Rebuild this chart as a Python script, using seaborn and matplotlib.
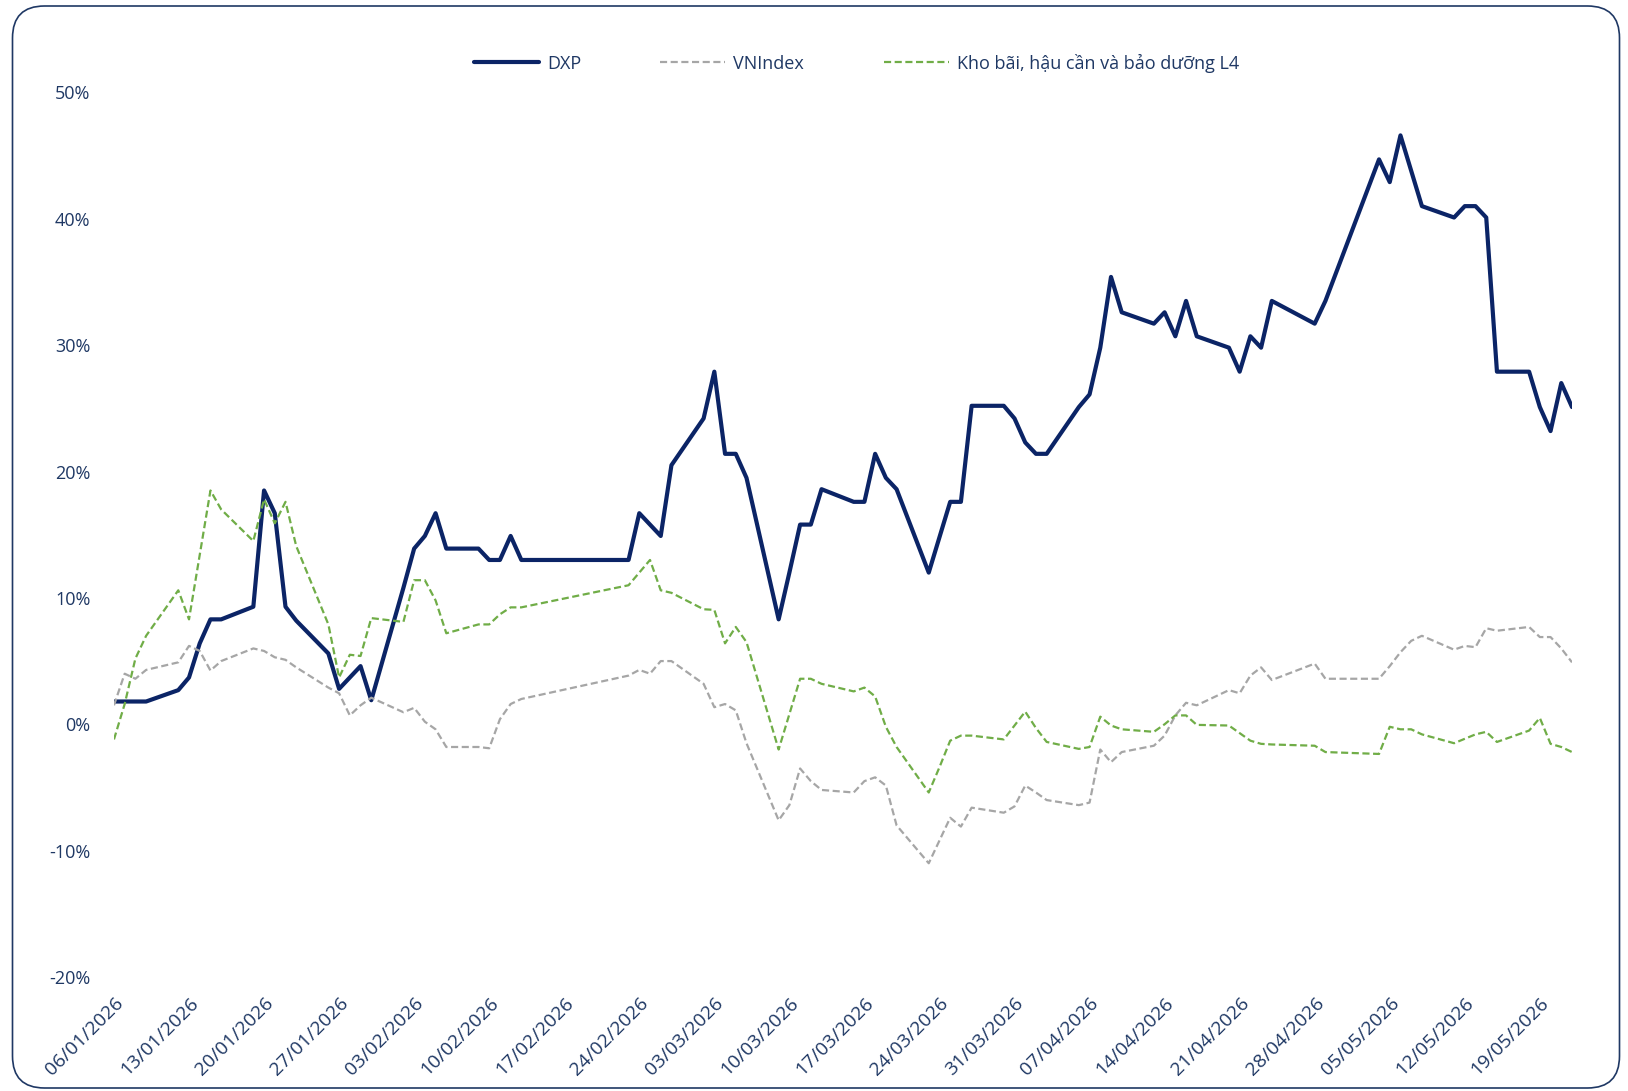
import pandas as pd
import matplotlib
import matplotlib.pyplot as plt
import seaborn as sns
from matplotlib.patches import FancyBboxPatch
from matplotlib.transforms import IdentityTransform
from matplotlib.ticker import PercentFormatter
import matplotlib.dates as mdates

# trading days (Tet 16-20/02, 27/04, 30/04, 01/05 closed)
dates = [
    "06/01", "07/01", "08/01", "09/01", "12/01", "13/01", "14/01", "15/01", "16/01", "19/01",
    "20/01", "21/01", "22/01", "23/01", "26/01", "27/01", "28/01", "29/01", "30/01",
    "02/02", "03/02", "04/02", "05/02", "06/02", "09/02", "10/02", "11/02", "12/02", "13/02",
    "23/02", "24/02", "25/02", "26/02", "27/02",
    "02/03", "03/03", "04/03", "05/03", "06/03", "09/03", "10/03", "11/03", "12/03", "13/03",
    "16/03", "17/03", "18/03", "19/03", "20/03", "23/03", "24/03", "25/03", "26/03", "27/03",
    "30/03", "31/03",
    "01/04", "02/04", "03/04", "06/04", "07/04", "08/04", "09/04", "10/04", "13/04", "14/04",
    "15/04", "16/04", "17/04", "20/04", "21/04", "22/04", "23/04", "24/04", "28/04", "29/04",
    "04/05", "05/05", "06/05", "07/05", "08/05", "11/05", "12/05", "13/05", "14/05", "15/05",
    "18/05", "19/05", "20/05", "21/05", "22/05",
]

dxp = [
    1.8, 1.8, 1.8, 1.8, 2.7, 3.7, 6.4, 8.3, 8.3, 9.3, 18.5, 16.7, 9.3, 8.2, 5.6, 2.8, 3.7, 4.6, 1.9,
    10.8, 13.9, 14.9, 16.7, 13.9, 13.9, 13.0, 13.0, 14.9, 13.0, 13.0, 16.7, 15.8, 14.9, 20.5,
    24.2, 27.9, 21.4, 21.4, 19.5, 8.3, 12.0, 15.8, 15.8, 18.6, 17.6, 17.6, 21.4, 19.5, 18.6,
    12.0, 14.8, 17.6, 17.6, 25.2, 25.2, 24.2,
    22.3, 21.4, 21.4, 25.1, 26.1, 29.8, 35.4, 32.6, 31.7, 32.6, 30.7, 33.5, 30.7, 29.8, 27.9,
    30.7, 29.8, 33.5, 31.7, 33.5,
    44.7, 42.9, 46.6, 43.8, 41.0, 40.1, 41.0, 41.0, 40.1, 27.9, 27.9, 25.1, 23.2, 27.0, 25.1,
]

vnindex = [
    1.5, 4.0, 3.6, 4.3, 4.9, 6.2, 5.8, 4.25, 5.0, 6.0, 5.8, 5.3, 5.1, 4.5, 2.9, 2.45, 0.7, 1.5, 2.1,
    0.95, 1.3, 0.2, -0.4, -1.8, -1.8, -1.9, 0.4, 1.6, 2.0, 3.85, 4.3, 4.0, 5.0, 5.0,
    3.2, 1.35, 1.6, 1.1, -1.5, -7.6, -6.4, -3.5, -4.5, -5.2, -5.4, -4.5, -4.2, -4.85, -8.0,
    -11.0, -9.2, -7.4, -8.1, -6.6, -7.0, -6.5,
    -4.85, -5.4, -6.0, -6.4, -6.2, -2.0, -3.0, -2.2, -1.7, -0.9, 0.7, 1.7, 1.5, 2.7, 2.45,
    3.85, 4.5, 3.5, 4.8, 3.6,
    3.6, 4.6, 5.7, 6.6, 7.0, 5.9, 6.2, 6.1, 7.6, 7.4, 7.7, 6.9, 6.9, 6.0, 4.9,
]

nganh_l4 = [
    -1.2, 1.6, 5.2, 7.0, 10.6, 8.3, 13.4, 18.5, 17.0, 14.5, 17.8, 15.9, 17.6, 14.1, 7.9, 3.7, 5.5, 5.4, 8.4,
    8.1, 11.4, 11.4, 9.8, 7.2, 7.9, 7.9, 8.7, 9.25, 9.25, 11.0, 12.0, 13.0, 10.6, 10.4,
    9.1, 9.05, 6.4, 7.7, 6.5, -2.0, 0.8, 3.6, 3.6, 3.2, 2.6, 2.9, 2.2, -0.2, -1.8,
    -5.4, -3.4, -1.3, -0.9, -0.9, -1.2, -0.1,
    1.0, -0.3, -1.4, -1.95, -1.8, 0.6, -0.1, -0.4, -0.6, 0.0, 0.7, 0.7, -0.05, -0.1, -0.7,
    -1.3, -1.55, -1.6, -1.7, -2.2,
    -2.35, -0.2, -0.4, -0.4, -0.8, -1.5, -1.15, -0.8, -0.6, -1.4, -0.5, 0.5, -1.55, -1.8, -2.2,
]

labels = ["DXP", "VNIndex", "Kho bãi, hậu cần và bảo dưỡng L4"]

x = pd.to_datetime([d + "/2026" for d in dates], format="%d/%m/%Y")

sns.set_theme(style="white")
plt.rcParams["font.family"] = ["Open Sans", "DejaVu Sans"]
plt.rcParams["axes.unicode_minus"] = False

navy = "#0b2466"
text_c = "#1f3864"

fig = plt.figure(figsize=(16.28, 10.91), dpi=100)
ax = fig.add_axes([0.0700, 0.1045, 0.8956, 0.8108])

sns.lineplot(x=x, y=dxp, ax=ax, color=navy, linewidth=3.0, label=labels[0])
sns.lineplot(x=x, y=vnindex, ax=ax, color="#a6a6a6", linewidth=1.6,
             linestyle=(0, (3.2, 1.6)), label=labels[1])
sns.lineplot(x=x, y=nganh_l4, ax=ax, color="#70ad47", linewidth=1.6,
             linestyle=(0, (3.2, 1.6)), label=labels[2])

ax.set_xlim(x[0], x[-1])
ax.set_ylim(-20, 50)
ax.set_yticks(range(-20, 51, 10))
ax.yaxis.set_major_formatter(PercentFormatter(xmax=100, decimals=0))
ax.set_xticks(pd.date_range(x[0], x[-1], freq="7D"))
ax.xaxis.set_major_formatter(mdates.DateFormatter("%d/%m/%Y"))
ax.set_xlabel("")
ax.set_ylabel("")
for s in ax.spines.values():
    s.set_visible(False)
ax.tick_params(axis="both", length=0, labelsize=13, labelcolor=text_c)
ax.tick_params(axis="y", pad=17)
ax.tick_params(axis="x", pad=12, labelsize=13.8)
for lab in ax.get_xticklabels():
    lab.set_rotation(45)
    lab.set_ha("right")
    lab.set_va("top")
    lab.set_rotation_mode("anchor")

ax.legend(loc="center", bbox_to_anchor=(0.526, 0.942), bbox_transform=fig.transFigure,
          ncol=3, frameon=False, fontsize=13, labelcolor=text_c,
          handlelength=3.6, handletextpad=0.45, columnspacing=4.4)

frame = FancyBboxPatch((12.5, 3), 1607, 1082, boxstyle="round,pad=0,rounding_size=32",
                       transform=IdentityTransform(), fill=False,
                       edgecolor=text_c, linewidth=1.2)
fig.patches.append(frame)

fig.savefig("out.png", dpi=100)
